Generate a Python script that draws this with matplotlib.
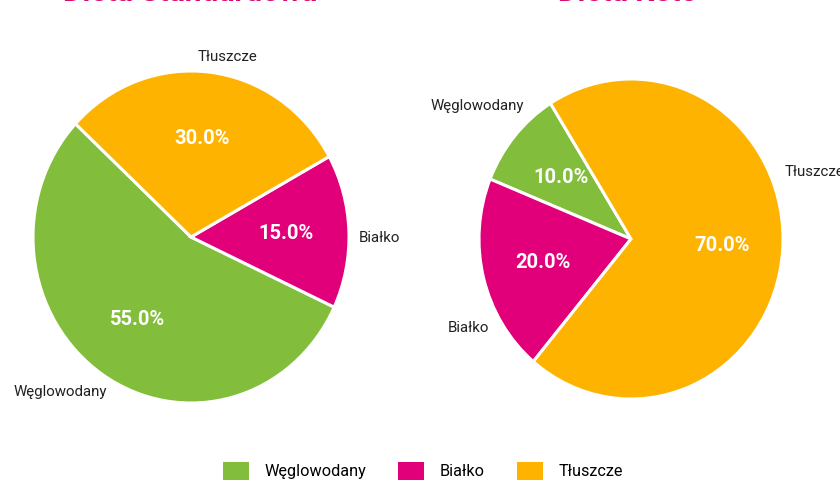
import numpy as np
import matplotlib
matplotlib.use("Agg")
import matplotlib.pyplot as plt
from matplotlib.patches import Patch

plt.rcParams['font.family'] = ['Roboto', 'DejaVu Sans']

categories = ["Węglowodany", "Białko", "Tłuszcze"]
standard_values = [55, 15, 30]
keto_values = [10, 20, 70]
titles = ["Dieta Standardowa", "Dieta Keto"]
colors = ["#82BD3B", "#E2007A", "#FEB300"]
title_color = "#D80B6F"

W, H = 840, 480
fig = plt.figure(figsize=(W / 100, H / 100), dpi=100)

# axes geometry in pixels: centre x, centre y (from top), radius x, radius y
geoms = [(191, 237, 158, 166), (631, 239, 152, 160)]
lim = 1.25
start_angles = [137, 122]
# outer label placement (angle deg, radius, ha)
label_pos = [
    [(240.3, 1.075, 'right'), (-0.3, 1.063, 'left'), (78.1, 1.108, 'center')],
    [(130.3, 1.089, 'right'), (210.8, 1.087, 'right'), (22.5, 1.096, 'left')],
]
title_x = [190, 628]

for i, vals in enumerate([standard_values, keto_values]):
    cx, cy, rx, ry = geoms[i]
    w = 2 * lim * rx
    h = 2 * lim * ry
    ax = fig.add_axes([(cx - w / 2) / W, (H - cy - h / 2) / H, w / W, h / H])
    wedges, texts, autotexts = ax.pie(
        vals, colors=colors, startangle=start_angles[i], counterclock=True,
        autopct='%1.1f%%', pctdistance=0.6,
        wedgeprops=dict(edgecolor='white', linewidth=2.2),
        textprops=dict(color='white', fontsize=14.5, fontweight='bold'))
    ax.set_aspect('auto')
    ax.set_xlim(-lim, lim)
    ax.set_ylim(-lim, lim)
    ax.axis('off')
    for cat, (ang, r, ha) in zip(categories, label_pos[i]):
        a = np.deg2rad(ang)
        ax.text(r * np.cos(a), r * np.sin(a), cat, ha=ha, va='center',
                fontsize=10.8, color='#222222')
    fig.text(title_x[i] / W, (H - 1) / H, titles[i], ha='center', va='baseline',
             fontsize=21.5, fontweight='bold', color=title_color)

handles = [Patch(facecolor=c, edgecolor='none') for c in colors]
fig.legend(handles, categories, loc='center', bbox_to_anchor=(423 / W, 9 / H),
           ncol=3, frameon=False, fontsize=11.7, handlelength=1.6, handleheight=1.3,
           handletextpad=0.95, columnspacing=2.0)

fig.savefig("out.png", dpi=100, facecolor='white')
